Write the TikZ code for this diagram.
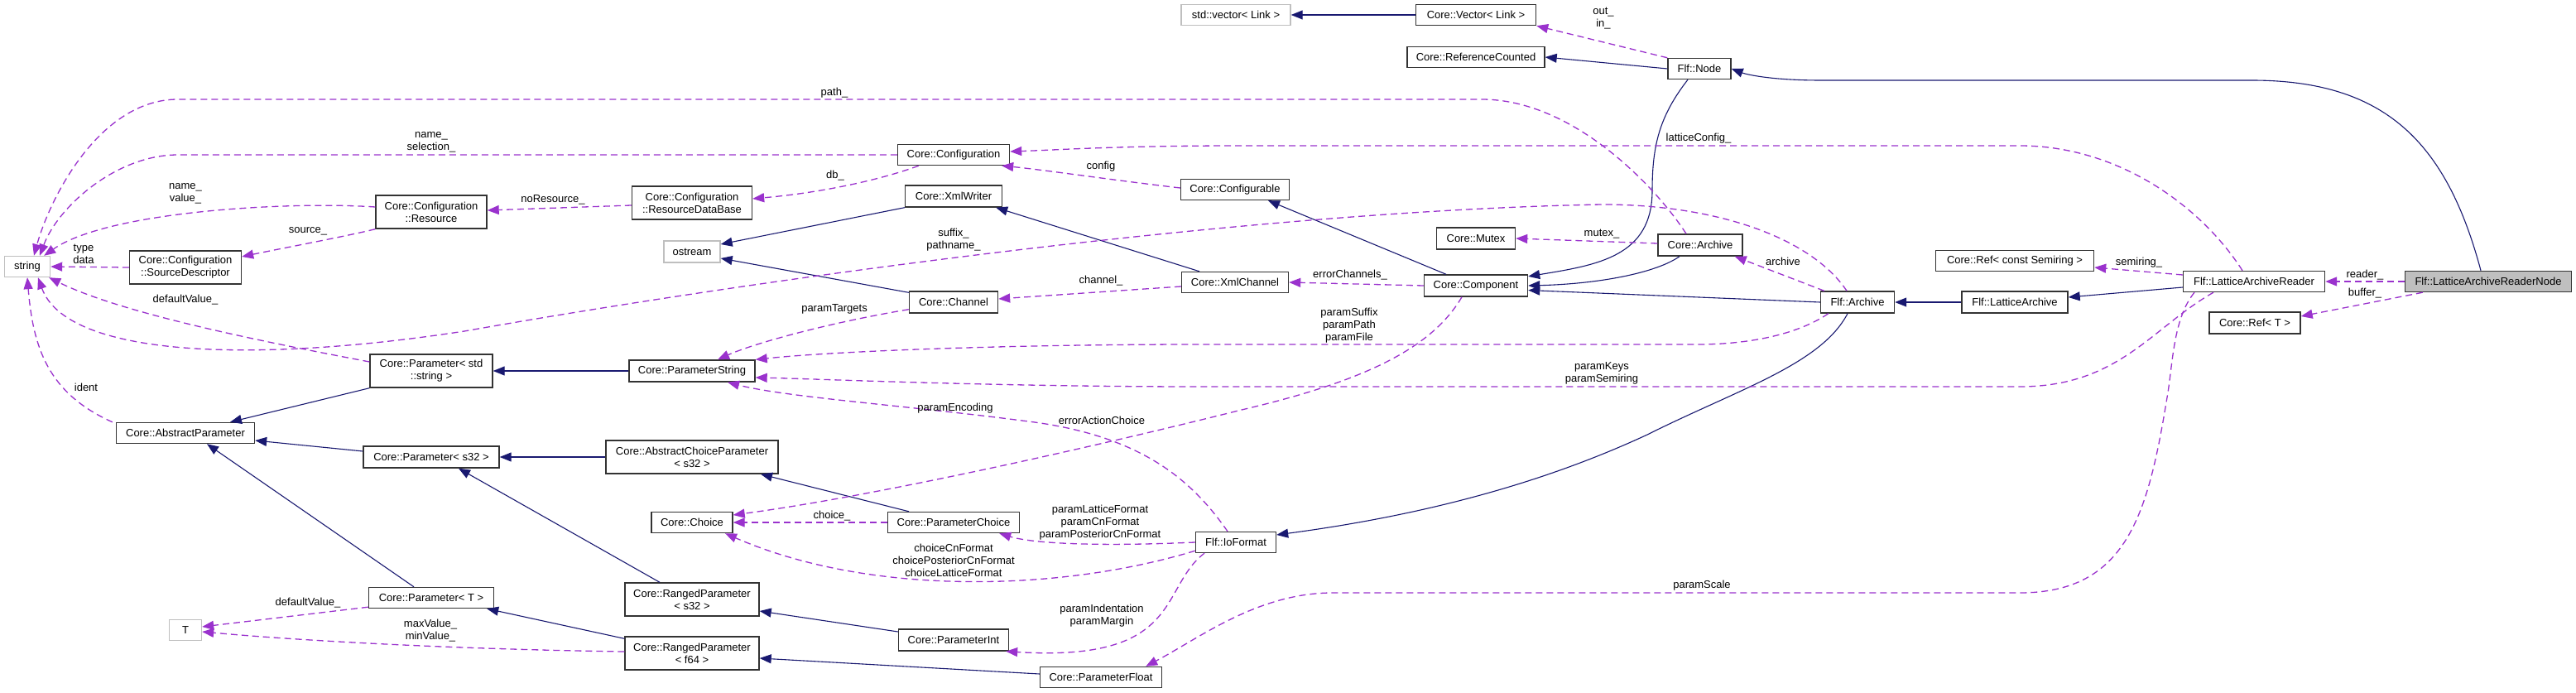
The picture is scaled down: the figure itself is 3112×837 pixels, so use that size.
\documentclass[tikz,border=0pt]{standalone}
\usepackage{fontspec}
\setmainfont{Liberation Sans}
\usetikzlibrary{arrows.meta,calc}
\definecolor{inhc}{HTML}{191970}
\definecolor{usec}{HTML}{9A32CD}
\definecolor{boxc}{HTML}{333333}
\definecolor{extc}{HTML}{BFBFBF}
\newcommand\dfont{\fontsize{13}{15}\selectfont}
\tikzset{
  cls/.style={draw=boxc, line width=1.4pt, fill=white, inner sep=0pt, align=center, font=\dfont},
  ext/.style={cls, draw=extc},
  cur/.style={cls, fill=extc, draw=boxc},
  sz/.style 2 args={minimum width=#1pt, minimum height=#2pt},
  inh/.style={draw=inhc, line width=1.1pt, -{Triangle[length=14pt,width=11pt]}},
  use/.style={draw=usec, line width=1.3pt, dash pattern=on 8pt off 5pt, -{Triangle[length=14pt,width=11pt]}},
  elab/.style={font=\dfont, align=center, inner sep=0pt}
}
\begin{document}
\begin{tikzpicture}[x=1pt,y=-1pt]
\useasboundingbox (0,0) rectangle (3112,837);
% nodes
\node[ext, sz={55}{25}] (string) at (33,322) {string};
\node[cls, sz={135}{40}] (SD) at (224,323) {Core::Configuration\\::SourceDescriptor};
\node[cls, sz={134}{40}] (Resource) at (521,256) {Core::Configuration\\::Resource};
\node[cls, sz={145}{40}] (RDB) at (836,245) {Core::Configuration\\::ResourceDataBase};
\node[cls, sz={135}{25}] (Configuration) at (1152,187) {Core::Configuration};
\node[cls, sz={117}{26}] (XmlWriter) at (1152,237) {Core::XmlWriter};
\node[ext, sz={68}{26}] (ostream) at (836,304) {ostream};
\node[cls, sz={107}{26}] (Channel) at (1152,365) {Core::Channel};
\node[cls, sz={148}{40}] (PStr) at (521,448) {Core::Parameter< std\\::string >};
\node[cls, sz={167}{25}] (AbsParam) at (224,523) {Core::AbstractParameter};
\node[cls, sz={164}{26}] (Ps32) at (521,552) {Core::Parameter< s32 >};
\node[cls, sz={151}{25}] (PT) at (521,722) {Core::Parameter< T >};
\node[ext, sz={39}{25}] (T) at (224,761) {T};
\node[cls, sz={152}{26}] (PString) at (836,448) {Core::ParameterString};
\node[cls, sz={208}{40}] (ACP) at (836,552) {Core::AbstractChoiceParameter\\< s32 >};
\node[cls, sz={98}{25}] (Choice) at (836,631) {Core::Choice};
\node[cls, sz={159}{25}] (PChoice) at (1152,631) {Core::ParameterChoice};
\node[cls, sz={162}{40}] (RPs32) at (836,724) {Core::RangedParameter\\< s32 >};
\node[cls, sz={162}{40}] (RPf64) at (836,789) {Core::RangedParameter\\< f64 >};
\node[cls, sz={133}{26}] (PInt) at (1152,773) {Core::ParameterInt};
\node[cls, sz={147}{25}] (PFloat) at (1330,818) {Core::ParameterFloat};
\node[cls, sz={97}{25}] (IoFormat) at (1493,655) {Flf::IoFormat};
\node[ext, sz={132}{25}] (stdvec) at (1493,18) {std::vector< Link >};
\node[cls, sz={145}{25}] (Vector) at (1783,18) {Core::Vector< Link >};
\node[cls, sz={166}{25}] (RefCounted) at (1783,69) {Core::ReferenceCounted};
\node[cls, sz={76}{25}] (FlfNode) at (2053,83) {Flf::Node};
\node[cls, sz={131}{25}] (Configurable) at (1492,229) {Core::Configurable};
\node[cls, sz={95}{26}] (Mutex) at (1783,288) {Core::Mutex};
\node[cls, sz={102}{26}] (CArchive) at (2054,296) {Core::Archive};
\node[cls, sz={129}{25}] (XmlChannel) at (1492,341) {Core::XmlChannel};
\node[cls, sz={125}{26}] (Component) at (1783,345) {Core::Component};
\node[cls, sz={89}{26}] (FlfArchive) at (2244,365) {Flf::Archive};
\node[cls, sz={128}{26}] (LatArchive) at (2434,365) {Flf::LatticeArchive};
\node[cls, sz={191}{25}] (RefSemiring) at (2434,315) {Core::Ref< const Semiring >};
\node[cls, sz={171}{25}] (LAR) at (2723,340) {Flf::LatticeArchiveReader};
\node[cur, sz={201}{25}] (LARN) at (3006,340) {Flf::LatticeArchiveReaderNode};
\node[cls, sz={110}{26}] (RefT) at (2724,390) {Core::Ref< T >};

% inheritance
\draw[inh] (Vector.west) -- (stdvec.east);
\draw[inh] (FlfNode.west) -- (RefCounted.east);
\draw[inh] ($(LARN.north)+(-9,0)$) .. controls (2955,170) and (2880,97) .. (2720,97) -- (2200,97) .. controls (2140,97) and (2110,90) .. (FlfNode.east);
\draw[inh] ($(FlfNode.south)+(-14,0)$) .. controls (2005,140) and (1996,175) .. (1996,230) .. controls (1996,310) and (1930,320) .. (Component.10);
\draw[inh] ($(CArchive.south)+(-25,0)$) .. controls (2000,330) and (1930,343) .. (Component.east);
\draw[inh] (FlfArchive.west) -- (Component.-5);
\draw[inh] ($(Component.north)+(-36,0)$) -- ($(Configurable.south)+(40,0)$);
\draw[inh] (LatArchive.west) -- (FlfArchive.east);
\draw[inh] ($(LAR.west)+(0,7)$) -- ($(LatArchive.east)+(0,-6)$);
\draw[inh] ($(FlfArchive.south)+(-12,0)$) .. controls (2200,440) and (2100,470) .. (1990,525) .. controls (1850,590) and (1700,625) .. ($(IoFormat.east)+(0,-9)$);
\draw[inh] ($(XmlChannel.north)+(-43,0)$) -- ($(XmlWriter.south east)+(-8,0)$);
\draw[inh] (XmlWriter.south west) -- ($(ostream.east)+(0,-9)$);
\draw[inh] ($(Channel.north west)+(0,2)$) -- ($(ostream.east)+(0,8)$);
\draw[inh] (PString.west) -- (PStr.east);
\draw[inh] (PStr.south west) -- ($(AbsParam.north)+(54,0)$);
\draw[inh] ($(Ps32.west)+(0,-7)$) -- ($(AbsParam.east)+(0,9)$);
\draw[inh] ($(PT.north)+(-21,0)$) -- ($(AbsParam.south)+(26,0)$);
\draw[inh] (ACP.west) -- (Ps32.east);
\draw[inh] ($(PChoice.north)+(-54,0)$) -- ($(ACP.south)+(83,0)$);
\draw[inh] ($(RPs32.north)+(-39,0)$) -- ($(Ps32.south)+(33,0)$);
\draw[inh] ($(RPf64.north west)+(0,3)$) -- ($(PT.south east)+(-9,0)$);
\draw[inh] ($(PInt.west)+(0,-10)$) -- ($(RPs32.east)+(0,14)$);
\draw[inh] ($(PFloat.west)+(0,-4)$) -- ($(RPf64.east)+(0,6)$);

% usage
\draw[use] (FlfNode.north west) -- (Vector.south east);
\draw[use] ($(CArchive.north)+(-17,0)$) .. controls (2000,225) and (1900,120) .. (1790,120) -- (215,120) .. controls (120,120) and (60,240) .. ($(string.north)+(8,0)$);
\draw[use] (Configuration.west) -- (215,187) .. controls (140,187) and (70,250) .. ($(string.north)+(15,0)$);
\draw[use] ($(Resource.west)+(0,-6)$) .. controls (350,243) and (130,255) .. ($(string.north east)+(-8,0)$);
\draw[use] (SD.west) -- (string.east);
\draw[use] (Resource.south west) .. controls (420,285) and (340,300) .. ($(SD.east)+(0,-13)$);
\draw[use] ($(RDB.west)+(0,3)$) -- ($(Resource.east)+(0,-2)$);
\draw[use] ($(Configuration.south west)+(26,0)$) .. controls (1070,215) and (1000,232) .. ($(RDB.east)+(0,-5)$);
\draw[use] ($(Configurable.west)+(0,-2)$) .. controls (1340,217) and (1260,205) .. ($(Configuration.south east)+(-10,0)$);
\draw[use] ($(LAR.north)+(-14,0)$) .. controls (2660,250) and (2560,176) .. (2440,176) -- (1500,176) .. controls (1350,176) and (1280,181) .. ($(Configuration.east)+(0,-4)$);
\draw[use] ($(FlfArchive.north)+(-13,0)$) .. controls (2190,290) and (2080,247) .. (1935,247) .. controls (1500,255) and (900,340) .. (561,400) .. controls (300,440) and (80,430) .. ($(string.south)+(13,0)$);
\draw[use] ($(Channel.south west)+(0,-5)$) .. controls (1000,390) and (910,415) .. ($(PString.north)+(31,0)$);
\draw[use] ($(XmlChannel.west)+(0,5)$) -- ($(Channel.east)+(0,-4)$);
\draw[use] (Component.west) -- (XmlChannel.east);
\draw[use] ($(CArchive.west)+(0,-2)$) -- (Mutex.east);
\draw[use] ($(FlfArchive.north west)+(5,0)$) -- ($(CArchive.south east)+(-10,0)$);
\draw[use] ($(FlfArchive.south west)+(10,0)$) .. controls (2170,405) and (2110,416) .. (2050,416) -- (1450,416) .. controls (1200,416) and (1000,425) .. (PString.north east);
\draw[use] ($(LAR.south)+(-49,0)$) .. controls (2600,395) and (2560,467) .. (2440,467) -- (1450,467) .. controls (1200,467) and (1000,458) .. ($(PString.east)+(0,8)$);
\draw[use] ($(IoFormat.north)+(-10,0)$) .. controls (1440,580) and (1380,528) .. (1250,510) .. controls (1100,490) and (950,480) .. ($(PString.south)+(43,0)$);
\draw[use] ($(Component.south)+(-17,0)$) .. controls (1730,420) and (1650,460) .. (1500,495) .. controls (1300,545) and (1050,600) .. ($(Choice.east)+(0,-9)$);
\draw[use] (PChoice.west) -- (Choice.east);
\draw[use] (IoFormat.west) .. controls (1330,660) and (1250,657) .. ($(PChoice.south east)+(-25,0)$);
\draw[use] ($(IoFormat.south west)+(0,-3)$) .. controls (1280,715) and (1050,720) .. ($(Choice.south)+(40,0)$);
\draw[use] ($(IoFormat.south)+(-38,0)$) .. controls (1400,710) and (1430,800) .. ($(PInt.south east)+(-4,0)$);
\draw[use] ($(LAR.south)+(-72,0)$) .. controls (2625,385) and (2625,440) .. (2618,480) .. controls (2595,620) and (2570,716) .. (2440,716) -- (1610,716) .. controls (1520,716) and (1450,770) .. ($(PFloat.north east)+(-20,0)$);
\draw[use] ($(LAR.west)+(0,-8)$) -- ($(RefSemiring.east)+(0,8)$);
\draw[use] (LARN.west) -- (LAR.east);
\draw[use] ($(LARN.south west)+(22,0)$) -- ($(RefT.east)+(0,-8)$);
\draw[use] ($(PT.south west)+(0,-2)$) -- ($(T.east)+(0,-4)$);
\draw[use] ($(RPf64.west)+(0,-2)$) .. controls (600,785) and (400,777) .. ($(T.east)+(0,2)$);
\draw[use] ($(AbsParam.north west)+(-4,0)$) .. controls (58,475) and (40,420) .. (string.south);
\draw[use] ($(PStr.west)+(0,-11)$) .. controls (330,415) and (150,380) .. ($(string.south east)+(-2,0)$);

% labels
\node[elab] (l1) at (1937,22) {out\_\\in\_};
\node[elab] (l2) at (1008,112) {path\_};
\node[elab] (l3) at (521,172) {name\_\\selection\_};
\node[elab] (l4) at (224,234) {name\_\\value\_};
\node[elab] (l5) at (101,307) {type\\data};
\node[elab] (l6) at (372,279) {source\_};
\node[elab] (l7) at (668,241) {noResource\_};
\node[elab] (l8) at (1009,212) {db\_};
\node[elab] (l9) at (1330,201) {config};
\node[elab] (l10) at (1152,290) {suffix\_\\pathname\_};
\node[elab] (l11) at (1330,339) {channel\_};
\node[elab] (l12) at (1008,373) {paramTargets};
\node[elab] (l13) at (224,362) {defaultValue\_};
\node[elab] (l14) at (104,468) {ident};
\node[elab] (l15) at (372,728) {defaultValue\_};
\node[elab] (l16) at (520,762) {maxValue\_\\minValue\_};
\node[elab] (l17) at (1154,493) {paramEncoding};
\node[elab] (l18) at (1331,508) {errorActionChoice};
\node[elab] (l19) at (1005,623) {choice\_};
\node[elab] (l20) at (1329,631) {paramLatticeFormat\\paramCnFormat\\paramPosteriorCnFormat};
\node[elab] (l21) at (1152,677) {choiceCnFormat\\choicePosteriorCnFormat\\choiceLatticeFormat};
\node[elab] (l22) at (1331,744) {paramIndentation\\paramMargin};
\node[elab] (l23) at (2052,167) {latticeConfig\_};
\node[elab] (l24) at (1935,283) {mutex\_};
\node[elab] (l25) at (2154,316) {archive};
\node[elab] (l26) at (1631,332) {errorChannels\_};
\node[elab] (l27) at (1630,393) {paramSuffix\\paramPath\\paramFile};
\node[elab] (l28) at (1935,451) {paramKeys\\paramSemiring};
\node[elab] (l29) at (2056,707) {paramScale};
\node[elab] (l30) at (2584,317) {semiring\_};
\node[elab] (l31) at (2857,332) {reader\_};
\node[elab] (l32) at (2857,354) {buffer\_};
\end{tikzpicture}
\end{document}
